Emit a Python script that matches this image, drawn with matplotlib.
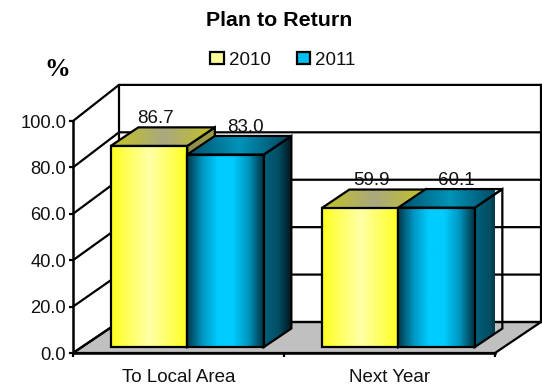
import numpy as np
import matplotlib
matplotlib.use("Agg")
import matplotlib.pyplot as plt
from matplotlib.colors import LinearSegmentedColormap
from matplotlib.patches import Patch, Polygon

categories = ["To Local Area", "Next Year"]
series_names = ["2010", "2011"]
values_2010 = [86.7, 59.9]
values_2011 = [83.0, 60.1]
y_ticks = [0, 20, 40, 60, 80, 100]

W, H = 542, 386
LEFT, RIGHT, BOTTOM, TOP = 73, 495, 353, 121  # plot front plane, in pixels
DEPTH_PX = (46, 31)
BAR_DEPTH = (0.19, 0.79)
BAR_WIDTH = 0.3626
WALL_STRETCH = 0.022

FONT = "Liberation Sans"
plt.rcParams["font.family"] = FONT

fig = plt.figure(figsize=(W / 100, H / 100), dpi=100, facecolor="white")
ax = fig.add_axes([LEFT / W, 1 - BOTTOM / H, (RIGHT - LEFT) / W, (BOTTOM - TOP) / H])
ax.set_xlim(0, 2)
ax.set_ylim(0, 100)
ax.patch.set_alpha(0)

dx_unit = DEPTH_PX[0] * 2 / (RIGHT - LEFT)
dy_unit = DEPTH_PX[1] * 100 / (BOTTOM - TOP)


def proj(x, v, d=0.0, stretch=0.0):
    """Oblique projection of a point at depth d (0 front, 1 back)."""
    return x + d * dx_unit, v * (1 + stretch * d) + d * dy_unit


def wall(x, v, d):
    return proj(x, v, d, WALL_STRETCH)


def shaded_face(corners, stops, z):
    """Fill a polygon with a left-to-right gradient."""
    corners = np.array(corners)
    poly = Polygon(corners, closed=True, facecolor="none", edgecolor="black",
                   linewidth=1.6, joinstyle="miter", clip_on=False, zorder=z + 0.5)
    ax.add_patch(poly)
    cmap = LinearSegmentedColormap.from_list("face", stops)
    extent = (corners[:, 0].min(), corners[:, 0].max(),
              corners[:, 1].min(), corners[:, 1].max())
    img = ax.imshow(np.linspace(0, 1, 256)[None, :], cmap=cmap, extent=extent,
                    aspect="auto", interpolation="bilinear", zorder=z, origin="lower")
    img.set_clip_path(poly)


def draw_bar(x0, value, front, side, top, z):
    d0, d1 = BAR_DEPTH
    x1 = x0 + BAR_WIDTH
    shaded_face([proj(x1, 0, d0), proj(x1, 0, d1), proj(x1, value, d1), proj(x1, value, d0)], side, z)
    shaded_face([proj(x0, value, d0), proj(x1, value, d0), proj(x1, value, d1), proj(x0, value, d1)], top, z + 1)
    shaded_face([proj(x0, 0, d0), proj(x1, 0, d0), proj(x1, value, d0), proj(x0, value, d0)], front, z + 2)


# Floor and walls
floor = [wall(0, 0, 0), wall(2, 0, 0), wall(2, 0, 1), wall(0, 0, 1)]
ax.add_patch(Polygon(floor, closed=True, facecolor="#c0c0c0", edgecolor="black",
                     linewidth=1.6, clip_on=False, zorder=1))
for v in y_ticks:
    pts = [wall(0, v, 0), wall(0, v, 1), wall(2, v, 1)]
    ax.plot(*zip(*pts), color="black", lw=1.6, clip_on=False, zorder=1.5)
for x in (0, 2):
    pts = [wall(x, 0, 1), wall(x, 100, 1)]
    ax.plot(*zip(*pts), color="black", lw=1.6, clip_on=False, zorder=1.5)

# Bars
yellow_front = ["#ffff20", "#ffffa8", "#ffff20"]
yellow_side = ["#8a8a50", "#a0a040"]
yellow_top = ["#c4c420", "#aaa880", "#c4c420"]
blue_front = ["#00384a", "#0096c0", "#00ccff", "#00ccff", "#0096c0", "#00303f"]
blue_side = ["#005f7a", "#004f66", "#00141c"]
blue_top = ["#00506a", "#0094b8", "#00405a"]

for i, (a, b) in enumerate(zip(values_2010, values_2011)):
    centre = i + 0.5
    z = 3 + i * 10
    draw_bar(centre - BAR_WIDTH, a, yellow_front, yellow_side, yellow_top, z)
    draw_bar(centre, b, blue_front, blue_side, blue_top, z + 4)

# Value labels
label_shift = {"2010": [0.03, 0.052], "2011": [0.095, 0.095]}
for name, vals, sign in zip(series_names, (values_2010, values_2011), (-1, 1)):
    for i, v in enumerate(vals):
        x = i + 0.5 + sign * BAR_WIDTH / 2 + label_shift[name][i]
        ax.annotate(f"{v:.1f}", xy=proj(x, v, BAR_DEPTH[0]),
                    xytext=(0, 19.6), textcoords="offset points", ha="center", va="center",
                    fontsize=13.5, color="#111111", zorder=60, annotation_clip=False)

# Axes furniture
for s in ("top", "right"):
    ax.spines[s].set_visible(False)
for s in ("left", "bottom"):
    ax.spines[s].set_linewidth(1.8)
    ax.spines[s].set_zorder(50)
ax.set_yticks(y_ticks)
ax.set_yticklabels([f"{v:.1f}" for v in y_ticks], fontsize=13.2, color="#111111")
ax.tick_params(axis="y", length=3, width=1.6, pad=2)
ax.set_xticks([0, 1, 2])
ax.set_xticklabels([])
ax.tick_params(axis="x", which="major", length=3, width=1.6)
ax.set_xticks([0.5, 1.5], minor=True)
ax.set_xticklabels(categories, minor=True, fontsize=13.5, color="#111111")
ax.tick_params(axis="x", which="minor", length=0, pad=11.5)

fig.text(279 / W, 1 - 21 / H, "Plan to Return", fontsize=15.4, fontweight="bold",
         ha="center", va="center", color="black")
fig.text(57 / W, 1 - 69 / H, "%", fontsize=18.5, fontweight="bold", family="Liberation Serif",
         ha="center", va="center", color="black")

handles = [Patch(facecolor="#ffff99", edgecolor="black", linewidth=1.6, label=series_names[0]),
           Patch(facecolor="#00c0f0", edgecolor="black", linewidth=1.6, label=series_names[1])]
fig.legend(handles=handles, ncol=2, frameon=False, fontsize=13.5,
           loc="center", bbox_to_anchor=(283 / W, 1 - 60.5 / H),
           handlelength=0.7, handleheight=0.6, handletextpad=0.27, columnspacing=1.42,
           labelcolor="#111111")

fig.savefig("out.png", dpi=100, facecolor="white")
